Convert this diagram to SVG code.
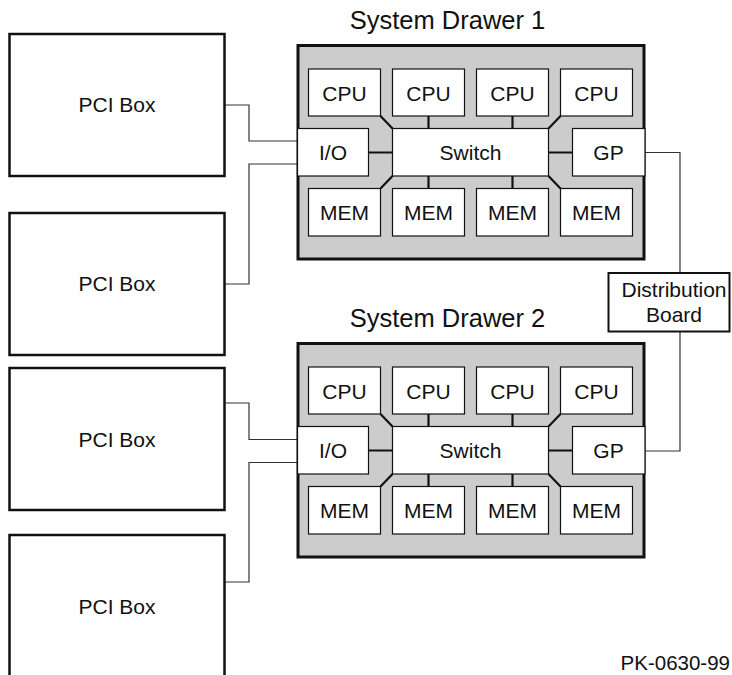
<svg xmlns="http://www.w3.org/2000/svg" width="732" height="675" viewBox="0 0 732 675">
<style>
text{font-family:"Liberation Sans",Arial,sans-serif;font-size:21px;fill:#111;text-anchor:middle}
.title{font-size:25.5px}
.pci{fill:#fff;stroke:#111;stroke-width:2.5}
.drawer{fill:#cccccc;stroke:#111;stroke-width:3}
.box{fill:#fff;stroke:#111;stroke-width:1.2}
.dist{fill:#fff;stroke:#111;stroke-width:2}
.bus{stroke:#111;stroke-width:2.2;fill:none}
.wire{stroke:#333;stroke-width:1.2;fill:none}
</style>
<defs>
<g id="drawerTpl">
<rect class="drawer" x="298" y="45.5" width="346" height="213.5"/>
<g class="bus">
<path d="M380.5 116L392.5 128.5M428.5 116V128.5M512.5 116V128.5M560.5 116L548.5 128.5"/>
<path d="M380.5 188.5L392.5 176M428.5 176V188.5M512.5 176V188.5M560.5 188.5L548.5 176"/>
<path d="M368.5 152.5H392.5M548.5 152.5H572.5"/>
</g>
<rect class="box" x="308.5" y="69" width="72" height="47"/>
<rect class="box" x="392.5" y="69" width="72" height="47"/>
<rect class="box" x="476.5" y="69" width="72" height="47"/>
<rect class="box" x="560.5" y="69" width="72" height="47"/>
<rect class="box" x="297.5" y="128.5" width="71" height="47.5"/>
<rect class="box" x="392.5" y="128.5" width="156" height="47.5"/>
<rect class="box" x="572.5" y="128.5" width="72.5" height="47.5"/>
<rect class="box" x="308.5" y="188.5" width="72" height="47.5"/>
<rect class="box" x="392.5" y="188.5" width="72" height="47.5"/>
<rect class="box" x="476.5" y="188.5" width="72" height="47.5"/>
<rect class="box" x="560.5" y="188.5" width="72" height="47.5"/>
<text x="344.5" y="100.5">CPU</text>
<text x="428.5" y="100.5">CPU</text>
<text x="512.5" y="100.5">CPU</text>
<text x="596.5" y="100.5">CPU</text>
<text x="333" y="160">I/O</text>
<text x="470.5" y="160">Switch</text>
<text x="608.5" y="160">GP</text>
<text x="344.5" y="220">MEM</text>
<text x="428.5" y="220">MEM</text>
<text x="512.5" y="220">MEM</text>
<text x="596.5" y="220">MEM</text>
</g>
</defs>
<g id="connectors">
<path class="wire" d="M225 105H249V141H297"/>
<path class="wire" d="M297 164H249V284H225"/>
<path class="wire" d="M645 152.5H680V272"/>
<path class="wire" d="M225 403H249V439.5H297"/>
<path class="wire" d="M297 462.5H249V582H225"/>
<path class="wire" d="M645 451H680V332"/>
</g>
<g id="pci1"><rect class="pci" x="9.5" y="34" width="215" height="142"/><text x="117" y="112">PCI Box</text></g>
<g id="pci2"><rect class="pci" x="9.5" y="213" width="215" height="142"/><text x="117" y="291">PCI Box</text></g>
<g id="pci3"><rect class="pci" x="9.5" y="368" width="215" height="142"/><text x="117" y="446.5">PCI Box</text></g>
<g id="pci4"><rect class="pci" x="9.5" y="535" width="215" height="142"/><text x="117" y="613.5">PCI Box</text></g>
<g id="drawer1">
<text class="title" x="447.5" y="28.5">System Drawer 1</text>
<use href="#drawerTpl"/>
</g>
<g id="drawer2">
<text class="title" x="447.5" y="326.5">System Drawer 2</text>
<use href="#drawerTpl" transform="translate(0,298)"/>
</g>
<g id="distribution">
<rect class="dist" x="608.5" y="273" width="121" height="58.5"/>
<text x="674" y="297">Distribution</text>
<text x="674" y="322">Board</text>
</g>
<text x="730" y="670" style="text-anchor:end;font-size:20.5px">PK-0630-99</text>
</svg>
